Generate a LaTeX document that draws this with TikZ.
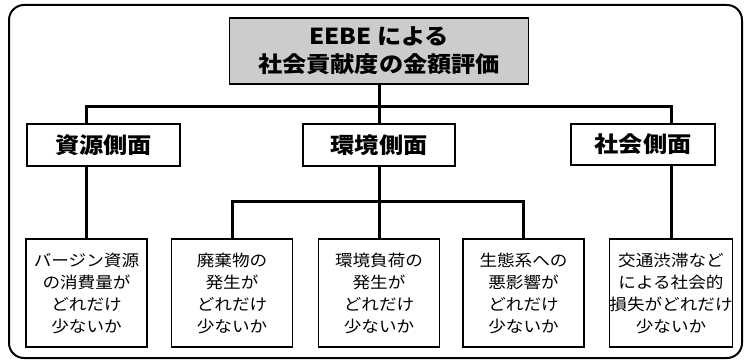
\documentclass[tikz,border=0pt]{standalone}
\usepackage{fontspec}
\setmainfont{Noto Sans CJK JP}
\newfontfamily\jpfont[FakeStretch=1.1]{Noto Sans CJK JP}
\begin{document}
\begin{tikzpicture}[x=1pt,y=-1pt,
  box/.style={draw, line width=1.5pt, rectangle, inner sep=0pt, align=center},
  headbox/.style={box, minimum height=42pt, font=\jpfont\bfseries\fontsize{22}{27}\selectfont},
  leafbox/.style={box, minimum width=121pt, minimum height=108pt, font=\jpfont\fontsize{16}{22}\selectfont},
  conn/.style={line width=3pt}]
\useasboundingbox (0,0) rectangle (744,361);
\draw[line width=2pt, rounded corners=15pt] (9,5) rectangle (742,358);
\node[box, fill=gray!40, minimum width=299pt, minimum height=66pt,
      font=\jpfont\bfseries\fontsize{22}{28}\selectfont] (title) at (379,51) {EEBE による\\社会貢献度の金額評価};
\node[headbox, minimum width=153pt] (A) at (103.5,145) {資源側面};
\node[headbox, minimum width=152pt] (B) at (379,145) {環境側面};
\node[headbox, minimum width=144pt, minimum height=41pt] (C) at (643,144.5) {社会側面};
\node[leafbox] (L1) at (86.5,293) {バージン資源\\の消費量が\\どれだけ\\少ないか};
\node[leafbox] (L2) at (232,293) {廃棄物の\\発生が\\どれだけ\\少ないか};
\node[leafbox] (L3) at (379,293) {環境負荷の\\発生が\\どれだけ\\少ないか};
\node[leafbox] (L4) at (523.5,293) {生態系への\\悪影響が\\どれだけ\\少ないか};
\node[leafbox] (L5) at (671,293) {交通渋滞など\\による社会的\\損失がどれだけ\\少ないか};
\coordinate (bus) at (0,106);
\coordinate (sub) at (0,201);
\draw[conn] (title.south) -- (B.north);
\draw[conn] (A.north -| L1.north) -- (bus -| L1.north) -- (bus -| L5.north) -- (C.north -| L5.north);
\draw[conn] (A.south -| L1.north) -- (L1.north);
\draw[conn] (C.south -| L5.north) -- (L5.north);
\draw[conn] (B.south) -- (L3.north);
\draw[conn] (L2.north) -- (sub -| L2.north) -- (sub -| L4.north) -- (L4.north);
\end{tikzpicture}
\end{document}
